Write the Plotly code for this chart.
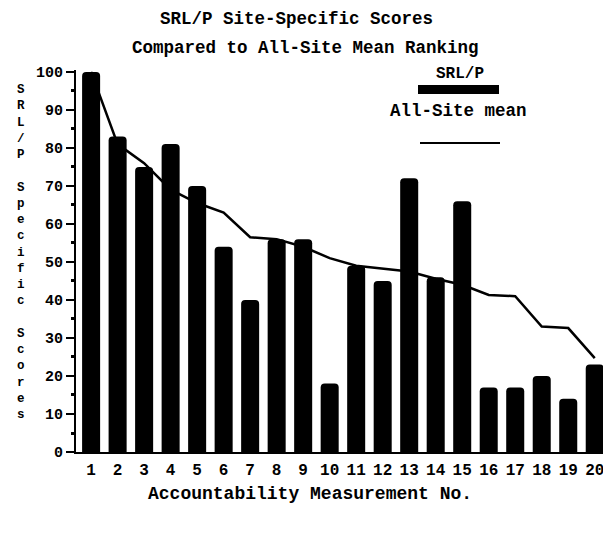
import plotly.graph_objects as go

# ---- data ----
categories = [str(i) for i in range(1, 21)]
srlp_scores = [100, 83, 75, 81, 70, 54, 40, 56, 56, 18, 49, 45, 72, 46, 66, 17, 17, 20, 14, 23]
all_site_mean = [100, 81, 76, 69, 65.5, 63, 56.5, 56, 54, 51, 49, 48.3, 47.5, 45.6, 44, 41.3, 41, 33, 32.6, 24.7]

title_lines = ["SRL/P Site-Specific Scores", "Compared to All-Site Mean Ranking"]
x_title = "Accountability Measurement No."
y_title = "SRL/P Specific Scores"
legend_bar_label = "SRL/P"
legend_line_label = "All-Site mean"

W, H = 611, 536
L, R, T, B = 68, 11, 62, 92
FONT = "Liberation Mono"

fig = go.Figure()
x_num = list(range(1, 21))
fig.add_trace(go.Scatter(x=x_num, y=all_site_mean, mode="lines",
                         line=dict(color="black", width=2.5), showlegend=False))
fig.add_trace(go.Bar(x=x_num, y=srlp_scores, marker=dict(color="black", line=dict(width=0)),
                     showlegend=False))

pw, ph = W - L - R, H - T - B
def px(x):
    return (x - L) / pw
def py(y):
    return 1 - (y - T) / ph

def label(text, x, y, size):
    return dict(text="<b>" + text + "</b>", xref="paper", yref="paper", x=px(x), y=py(y),
                showarrow=False, font=dict(family=FONT, size=size, color="black"),
                xanchor="center", yanchor="middle")

ann = [
    label(title_lines[0], 288, 11, 17.5),
    label(title_lines[1], 297, 40, 17.5),
    label(x_title, 302, 486, 18),
    label(legend_bar_label, 452, 66, 16),
    label(legend_line_label, 450, 103, 17.5),
]
ann.append(dict(text="<br>".join("<b>" + (c if c != " " else "&nbsp;") + "</b>" for c in y_title),
                xref="paper", yref="paper", x=px(13), y=py(244), showarrow=False,
                font=dict(family=FONT, size=12.5, color="black"), xanchor="center", yanchor="middle"))

shapes = [
    dict(type="rect", xref="paper", yref="paper", x0=px(410), x1=px(491), y0=py(86), y1=py(77),
         fillcolor="black", line=dict(width=0)),
    dict(type="line", xref="paper", yref="paper", x0=px(412), x1=px(492), y0=py(135), y1=py(135),
         line=dict(color="black", width=2)),
]

fig.update_layout(
    width=W, height=H,
    margin=dict(l=L, r=R, t=T, b=B),
    paper_bgcolor="white", plot_bgcolor="white",
    bargap=0.32, barcornerradius=4,
    annotations=ann, shapes=shapes,
    font=dict(family=FONT, color="black"),
    xaxis=dict(range=[0.43, 20.5], tickmode="array", tickvals=x_num, ticktext=categories,
               showgrid=False, zeroline=False, showline=True, linecolor="black", linewidth=2,
               ticks="", ticklabelstandoff=2,
               tickfont=dict(family=FONT, size=16, color="black", weight="bold")),
    yaxis=dict(range=[0, 100.5], tickmode="array", tickvals=list(range(0, 101, 10)),
               showgrid=False, zeroline=False, showline=True, linecolor="black", linewidth=2,
               ticks="outside", ticklen=8, tickwidth=2, tickcolor="black",
               minor=dict(tickmode="array", tickvals=list(range(5, 100, 10)), ticks="outside",
                          ticklen=3, tickwidth=3, tickcolor="black"),
               tickfont=dict(family=FONT, size=15, color="black", weight="bold")),
)

fig.write_html("out.html")
